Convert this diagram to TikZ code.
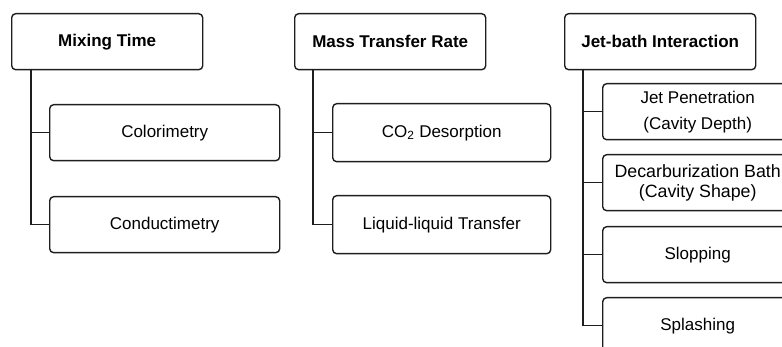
\documentclass[tikz,border=0pt]{standalone}
\usepackage{fontspec}
\setmainfont{Liberation Sans}
\begin{document}
\begin{tikzpicture}[x=1pt,y=-1pt,
  base/.style={draw=linec, line width=1.4pt, rounded corners=4pt, anchor=north west,
    inner sep=0pt, align=center, text=black, font=\fontsize{17}{20}\selectfont},
  headbox/.style={base, minimum width=191pt, minimum height=56pt, font=\fontsize{17}{20}\selectfont\bfseries},
  leafL/.style={base, minimum width=230pt, minimum height=56pt},
  leafM/.style={base, minimum width=218pt, minimum height=58pt},
  leafR/.style={base, minimum width=190pt, minimum height=56pt},
  link/.style={draw=linec, line width=1.4pt}]
\definecolor{linec}{HTML}{1E1E1E}
\useasboundingbox (0,0) rectangle (782,347);
\clip (0,0) rectangle (782,347);
% left column
\node[headbox] (mix) at (11,13) {Mixing Time};
\node[leafL] (col) at (49,104) {Colorimetry};
\node[leafL] (con) at (49,196) {Conductimetry};
\draw[link] ([xshift=20pt]mix.south west) |- (col.west);
\draw[link] ([xshift=20pt]mix.south west) |- (con.west);
% middle column
\node[headbox] (mass) at (294,13) {Mass Transfer Rate};
\node[leafM] (co2) at (332,103) {CO\textsubscript{2} Desorption};
\node[leafM] (liq) at (332,195) {Liquid-liquid Transfer};
\draw[link] ([xshift=19pt]mass.south west) |- (co2.west);
\draw[link] ([xshift=19pt]mass.south west) |- (liq.west);
% right column
\node[headbox] (jet) at (564,13) {Jet-bath Interaction};
\node[leafR] (pen) at (602,83) {Jet Penetration\\[6pt](Cavity Depth)};
\node[leafR, font=\fontsize{17.8}{20.5}\selectfont] (dec) at (602,154) {Decarburization Bath\\(Cavity Shape)};
\node[leafR] (slo) at (602,226) {Slopping};
\node[leafR] (spl) at (602,297) {Splashing};
\draw[link] ([xshift=19pt]jet.south west) |- (pen.west);
\draw[link] ([xshift=19pt]jet.south west) |- (dec.west);
\draw[link] ([xshift=19pt]jet.south west) |- (slo.west);
\draw[link] ([xshift=19pt]jet.south west) |- (spl.west);
\end{tikzpicture}
\end{document}
